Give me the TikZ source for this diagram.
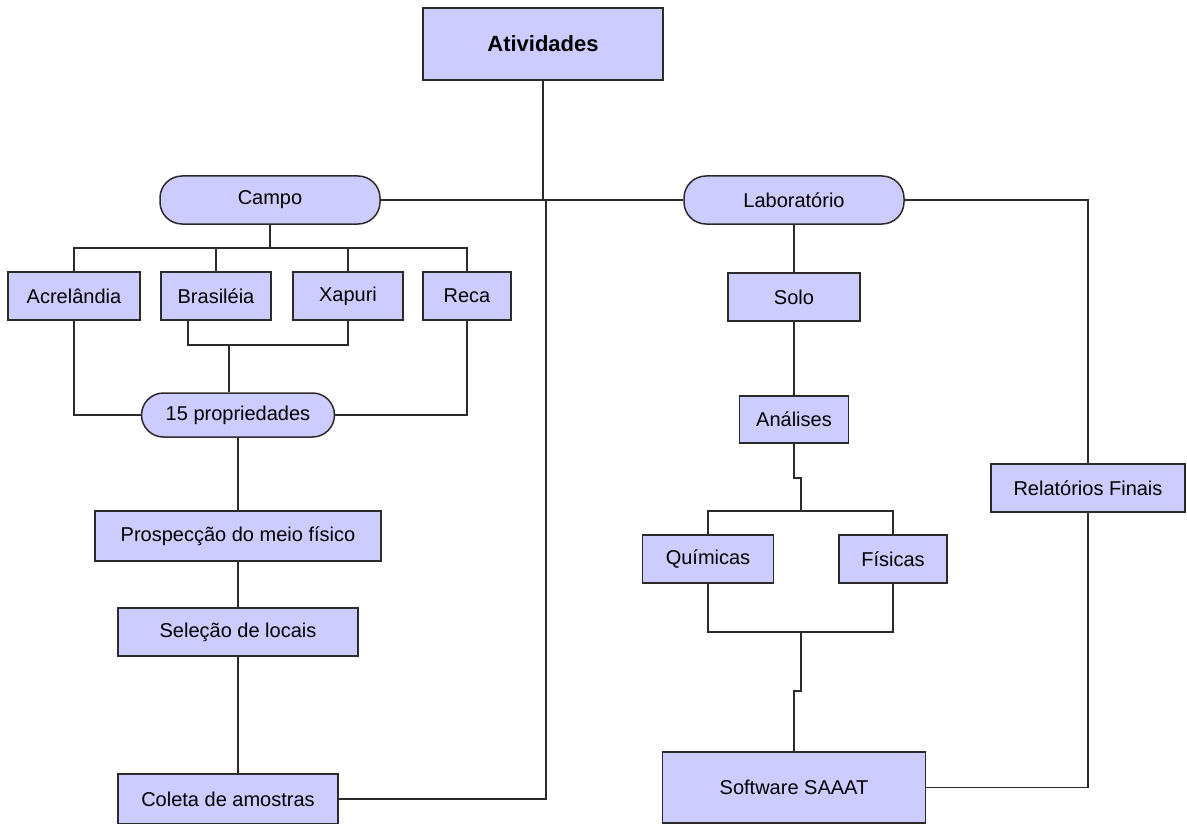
\documentclass[tikz,border=0pt]{standalone}
\usepackage{fontspec}
\setmainfont{Liberation Sans}
\usepackage{tikz}
\usetikzlibrary{calc}
\definecolor{lav}{HTML}{CCCCFF}
\definecolor{edge}{HTML}{2B2B2B}

\begin{document}
\begin{tikzpicture}[x=1pt, y=-1pt,
    box/.style={rectangle, draw=edge, fill=lav, line width=1.5pt, inner sep=0pt,
      font=\fontsize{20}{24}\selectfont},
    pill/.style={box, rounded corners=22pt},
    wire/.style={draw=edge, line width=1.6pt}]
    \useasboundingbox (0,0) rectangle (1187,824);
    \node[box,minimum width=240,minimum height=72,font=\fontsize{22}{26}\selectfont\bfseries] (ativ) at (543,44) {Atividades};
    \node[pill,minimum width=220,minimum height=48] (campo) at (270,200) {Campo};
    \node[pill,minimum width=220,minimum height=48] (lab) at (794,200) {Laborat\'orio};
    \node[box,minimum width=132,minimum height=48] (acre) at (74,296) {Acrel\^andia};
    \node[box,minimum width=110,minimum height=48] (bras) at (216,296) {Brasil\'eia};
    \node[box,minimum width=110,minimum height=48] (xap) at (348,296) {Xapuri};
    \node[box,minimum width=88,minimum height=48] (reca) at (467,296) {Reca};
    \node[pill,minimum width=193,minimum height=44] (prop) at (238,415) {15 propriedades};
    \node[box,minimum width=286,minimum height=50] (prosp) at (238,536) {Prospec\c{c}\~ao do meio f\'isico};
    \node[box,minimum width=240,minimum height=48] (sel) at (238,632) {Sele\c{c}\~ao de locais};
    \node[box,minimum width=220,minimum height=50] (coleta) at (228,799) {Coleta de amostras};
    \node[box,minimum width=132,minimum height=48] (solo) at (794,297) {Solo};
    \node[box,minimum width=109,minimum height=47] (anal) at (794,419.5) {An\'alises};
    \node[box,minimum width=131,minimum height=48] (quim) at (708,559) {Qu\'imicas};
    \node[box,minimum width=108,minimum height=48] (fis) at (893,559) {F\'isicas};
    \node[box,minimum width=194,minimum height=48] (rel) at (1088,488) {Relat\'orios Finais};
    \node[box,minimum width=263,minimum height=71] (soft) at (794,787.5) {Software SAAAT};
    \coordinate (hub) at (546,201);
    \coordinate (cbus) at (270,248);
    \coordinate (pbus) at (229,345);
    \coordinate (qbus) at (801,511);
    \coordinate (sbus) at (801,632);
    % top level
    \path[wire] (ativ.south) -- (ativ.south |- hub);
    \path[wire] (campo.east) -- (lab.west);
    \path[wire] (hub) |- (coleta.east);
    % campo
    \path[wire] (campo.south) -- (cbus);
    \path[wire] (acre.north) |- (cbus) -| (reca.north);
    \path[wire] (bras.north) -- (bras.north |- cbus);
    \path[wire] (xap.north) -- (xap.north |- cbus);
    \path[wire] ([xshift=-28pt]bras.south) |- (pbus) -| (xap.south);
    \path[wire] (pbus) -- (pbus |- prop.north);
    \path[wire] (acre.south) |- (prop.west);
    \path[wire] (reca.south) |- (prop.east);
    \path[wire] (prop.south) -- (prosp.north);
    \path[wire] (prosp.south) -- (sel.north);
    \path[wire] (sel.south) -- (sel.south |- coleta.north);
    % laboratorio
    \path[wire] (lab.south) -- (solo.north);
    \path[wire] (solo.south) -- (anal.north);
    \path[wire] (anal.south) -- ++(0,34) -| (qbus);
    \path[wire] (quim.north) |- (qbus) -| (fis.north);
    \path[wire] (quim.south) |- (sbus) -| (fis.south);
    \path[wire] (sbus) -- ++(0,59) -| (soft.north);
    \path[wire] (lab.east) -| (rel.north);
    \path[wire] (soft.east) -| (rel.south);
\end{tikzpicture}
\end{document}
